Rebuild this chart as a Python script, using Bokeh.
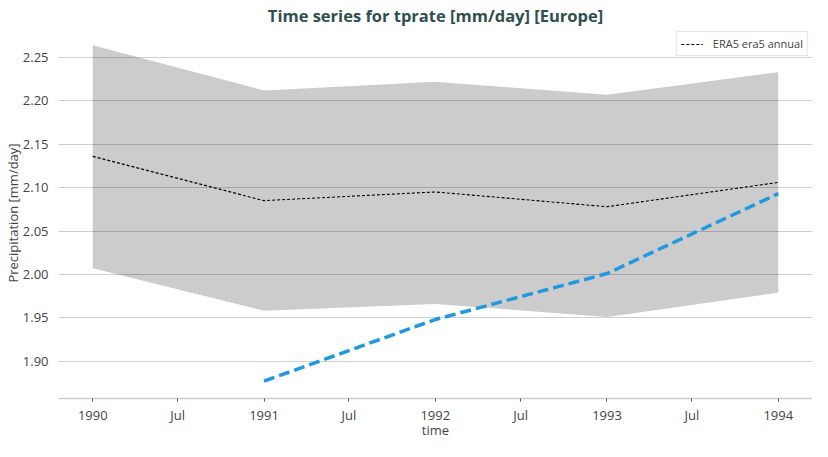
import datetime as dt
from bokeh.plotting import figure
from bokeh.models import Range1d, FixedTicker, Legend, LegendItem, CustomJSTickFormatter, PrintfTickFormatter
from bokeh.embed import file_html
from bokeh.resources import INLINE

# ---- data ----
era5_dates = ["1990-01-01", "1991-01-01", "1992-01-01", "1993-01-01", "1994-01-01"]
era5_mean = [2.136, 2.085, 2.095, 2.078, 2.106]
era5_upper = [2.264, 2.212, 2.222, 2.207, 2.233]
era5_lower = [2.007, 1.958, 1.966, 1.951, 1.979]

model_dates = ["1991-01-01", "1992-01-01", "1993-01-01", "1994-01-01"]
model_values = [1.877, 1.948, 2.001, 2.093]

tick_dates = ["1990-01-01", "1990-07-01", "1991-01-01", "1991-07-01", "1992-01-01",
              "1992-07-01", "1993-01-01", "1993-07-01", "1994-01-01"]
tick_labels = ["1990", "Jul", "1991", "Jul", "1992", "Jul", "1993", "Jul", "1994"]
y_ticks = [1.90, 1.95, 2.00, 2.05, 2.10, 2.15, 2.20, 2.25]

title_text = "Time series for tprate [mm/day] [Europe]"
legend_label = "ERA5 era5 annual"

FONT = "Open Sans"


def to_dt(s):
    return dt.datetime.strptime(s, "%Y-%m-%d")


def to_ms(s):
    return (to_dt(s) - dt.datetime(1970, 1, 1)).total_seconds() * 1000.0


ex = [to_dt(d) for d in era5_dates]
mx = [to_dt(d) for d in model_dates]

pad = dt.timedelta(days=73)
x_start = ex[0] - pad
x_end = ex[-1] + pad

p = figure(width=812, height=441, x_axis_type="datetime",
           x_range=Range1d(x_start, x_end), y_range=Range1d(1.857, 2.2845),
           output_backend="svg", toolbar_location=None,
           min_border_right=0, min_border_bottom=0, min_border_top=0, min_border_left=0)

p.title.text = title_text
p.title.align = "center"
p.title.text_font = FONT
p.title.text_font_style = "bold"
p.title.text_font_size = "16.5px"
p.title.text_color = "#2f4f4f"
p.title.offset = 0
p.title.standoff = 2

p.outline_line_color = None
p.background_fill_color = "white"
p.border_fill_color = "white"

# grid
p.xgrid.grid_line_color = None
p.ygrid.grid_line_color = "#cfcfcf"
p.ygrid.grid_line_width = 1

# band and lines
p.varea(x=ex, y1=era5_lower, y2=era5_upper, fill_color="black", fill_alpha=0.2)
r_era5 = p.line(ex, era5_mean, line_color="black", line_width=1.1, line_dash="3 2")
p.line(mx, model_values, line_color="#1f9ae0", line_width=3.5, line_dash="11 5")

# x axis
p.xaxis.ticker = FixedTicker(ticks=[to_ms(d) for d in tick_dates])
p.xaxis.formatter = CustomJSTickFormatter(args=dict(labels=tick_labels),
                                          code="return labels[index];")
p.xaxis.axis_label = "time"
p.xaxis.axis_label_text_font = FONT
p.xaxis.axis_label_text_font_style = "normal"
p.xaxis.axis_label_text_font_size = "13px"
p.xaxis.axis_label_standoff = -6
p.xaxis.major_label_text_font = FONT
p.xaxis.major_label_text_font_size = "13px"
p.xaxis.major_label_standoff = 4
p.xaxis.axis_line_color = "#cccccc"
p.xaxis.axis_line_width = 1.5
p.xaxis.major_tick_line_color = "#555555"
p.xaxis.major_tick_in = 0
p.xaxis.major_tick_out = 3
p.xaxis.minor_tick_line_color = None

# y axis
p.yaxis.ticker = FixedTicker(ticks=y_ticks)
p.yaxis.formatter = PrintfTickFormatter(format="%.2f")
p.yaxis.axis_label = "Precipitation [mm/day]"
p.yaxis.axis_label_text_font = FONT
p.yaxis.axis_label_text_font_style = "normal"
p.yaxis.axis_label_text_font_size = "13px"
p.yaxis.axis_label_standoff = -2
p.yaxis.major_label_text_font = FONT
p.yaxis.major_label_text_font_size = "13px"
p.yaxis.major_label_standoff = 4
p.yaxis.axis_line_color = None
p.yaxis.major_tick_line_color = None
p.yaxis.minor_tick_line_color = None

legend = Legend(items=[LegendItem(label=legend_label, renderers=[r_era5])],
                location="top_right")
legend.label_text_font = FONT
legend.label_text_font_size = "11px"
legend.border_line_color = "#cccccc"
legend.border_line_width = 1
legend.background_fill_alpha = 1.0
legend.glyph_width = 22
legend.glyph_height = 12
legend.padding = 4
legend.margin = 4
legend.label_standoff = 10
legend.label_height = 12
p.add_layout(legend)

open("out.html", "w").write(file_html(p, INLINE))
